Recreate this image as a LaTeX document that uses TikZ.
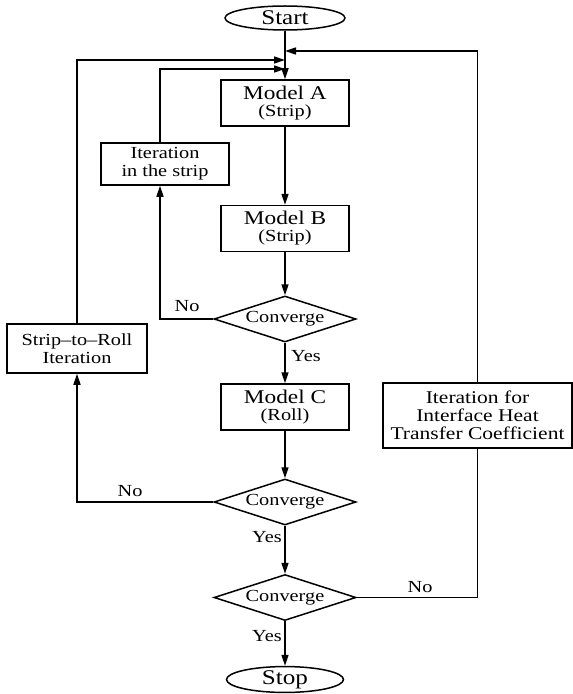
\documentclass[tikz,border=0pt]{standalone}
\usepackage{fontspec}
\setmainfont{Liberation Serif}[FakeStretch=1.2]
\usetikzlibrary{shapes.geometric,arrows.meta}

\begin{document}
\begin{tikzpicture}[x=1bp, y=-1bp, line width=1.5bp,
  every node/.style={font=\fontsize{17}{18}\selectfont, align=center, inner sep=0pt},
  terminal/.style={draw, ellipse, minimum width=120bp, minimum height=24bp,
    font=\fontsize{21}{22}\selectfont},
  modelbox/.style={draw, rectangle, minimum width=128bp, minimum height=46bp,
    font=\fontsize{17}{17}\selectfont},
  iterbox/.style={draw, rectangle},
  decision/.style={draw, diamond, aspect=3, minimum width=142bp, minimum height=46bp},
  flow/.style={-{Triangle[length=11bp,width=7bp]}}]
  \pgfmathsetmacro{\mx}{285}

  \useasboundingbox (0,0) rectangle (573,694);

  \node[terminal] (start) at (\mx,18) {Start};
  \node[modelbox] (modelA) at (\mx,103) {{\fontsize{19.5}{19}\selectfont Model A}\\(Strip)};
  \node[modelbox] (modelB) at (\mx,228.5) {{\fontsize{19.5}{19}\selectfont Model B}\\(Strip)};
  \node[decision] (conv1) at (\mx,319) {Converge};
  \node[modelbox] (modelC) at (\mx,407) {{\fontsize{19.5}{19}\selectfont Model C}\\(Roll)};
  \node[decision] (conv2) at (\mx,502) {Converge};
  \node[decision] (conv3) at (\mx,597.5) {Converge};
  \node[terminal, minimum width=117bp, minimum height=23bp] (stop) at (\mx,679.5) {Stop};

  \node[iterbox, minimum width=128bp, minimum height=42bp] (iterstrip) at (165,164)
    {Iteration\\in the strip};
  \node[iterbox, minimum width=140bp, minimum height=49bp] (iterroll) at (77,348.5)
    {Strip--to--Roll\\Iteration};
  \node[iterbox, minimum width=189bp, minimum height=65bp,
    font=\fontsize{18}{18}\selectfont] (iterheat) at (477.5,415.5)
    {Iteration for\\Interface Heat\\Transfer Coefficient};

  \coordinate (j1) at (\mx,51);
  \coordinate (j2) at (\mx,60);
  \coordinate (j3) at (\mx,69);
  \coordinate (s1) at ([xshift=-5bp]iterstrip.south);
  \coordinate (n1) at ([xshift=-5bp]iterstrip.north);

  \draw[flow] (start) -- (modelA);
  \draw[flow] (modelA) -- (modelB);
  \draw[flow] (modelB) -- (conv1);
  \draw[flow] (conv1) -- (modelC);
  \draw[flow] (modelC) -- (conv2);
  \draw[flow] (conv2) -- (conv3);
  \draw[flow] (conv3) -- (stop);

  \draw[flow] (conv1.west) -| (s1);
  \draw[flow] (n1) |- (j3);
  \draw[flow] (conv2.west) -| (iterroll.south);
  \draw[flow] (iterroll.north) |- (j2);
  \draw (conv3.east) -| (iterheat.south);
  \draw[flow] (iterheat.north) |- (j1);

  \node (no1) at (187,306) {No};
  \node (yes1) at (306,356) {Yes};
  \node (no2) at (130,491) {No};
  \node (yes2) at (267,537) {Yes};
  \node (no3) at (420,587) {No};
  \node (yes3) at (267,636) {Yes};
\end{tikzpicture}
\end{document}
